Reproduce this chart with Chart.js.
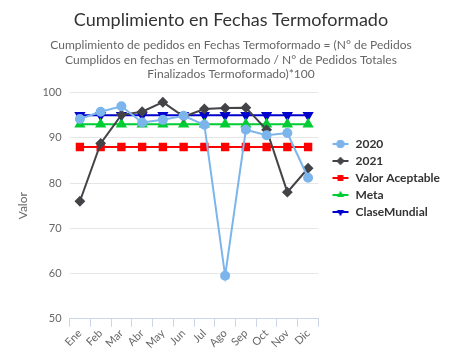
<!DOCTYPE html>
<html>
<head>
<meta charset="utf-8">
<script src="https://cdn.jsdelivr.net/npm/chart.js@4/dist/chart.umd.min.js"></script>
<style>
    html, body { margin: 0; padding: 0; background: #fff; }
    #wrap { width: 450px; height: 354px; }
</style>
</head>
<body>
<div id="wrap"><canvas id="chart"></canvas></div>
<script>
const meses = ['Ene', 'Feb', 'Mar', 'Abr', 'May', 'Jun', 'Jul', 'Ago', 'Sep', 'Oct', 'Nov', 'Dic'];
const datos2020 = [94.2, 95.8, 97.0, 93.4, 94.0, 94.9, 92.9, 59.5, 91.8, 90.6, 91.1, 81.2];
const datos2021 = [76.0, 88.8, 95.1, 95.8, 97.9, 94.7, 96.4, 96.6, 96.7, 91.8, 78.0, 83.3];
const valorAceptable = [88, 88, 88, 88, 88, 88, 88, 88, 88, 88, 88, 88];
const meta = [93, 93, 93, 93, 93, 93, 93, 93, 93, 93, 93, 93];
const claseMundial = [95, 95, 95, 95, 95, 95, 95, 95, 95, 95, 95, 95];

const fuente = 'Lato, "Open Sans", sans-serif';

// icono de la leyenda: linea con marcador (con margen vacio a la izquierda)
function iconoLeyenda(color, estilo, rot) {
    const c = document.createElement('canvas');
    c.width = 26; c.height = 12;
    const ctx = c.getContext('2d');
    ctx.strokeStyle = color;
    ctx.lineWidth = 2;
    ctx.beginPath();
    ctx.moveTo(9, 6); ctx.lineTo(25, 6);
    ctx.stroke();
    ctx.fillStyle = color;
    Chart.helpers.drawPoint(ctx, { pointStyle: estilo, radius: 4, rotation: rot || 0, borderWidth: 0 }, 17, 6);
    ctx.fill();
    return c;
}

function serie(label, data, color, estilo, radio, rot) {
    return {
        label: label,
        data: data,
        borderColor: color,
        backgroundColor: color,
        pointBackgroundColor: color,
        pointBorderColor: color,
        pointStyle: estilo,
        pointRadius: radio,
        pointRotation: rot || 0,
        borderWidth: 2,
        tension: 0,
        fill: false,
        icono: iconoLeyenda(color, estilo, rot)
    };
}

new Chart(document.getElementById('chart'), {
    type: 'line',
    data: {
        labels: meses,
        datasets: [
            serie('2020', datos2020, '#7cb5ec', 'circle', 4),
            serie('2021', datos2021, '#434348', 'rectRot', 4),
            serie('Valor Aceptable', valorAceptable, '#ff0000', 'rect', 4.5),
            serie('Meta', meta, '#00cc33', 'triangle', 4.5),
            serie('ClaseMundial', claseMundial, '#0000cc', 'triangle', 4.5, 180)
        ]
    },
    options: {
        responsive: true,
        maintainAspectRatio: false,
        animation: false,
        layout: { padding: { left: 12, right: 0, top: 5, bottom: 3 } },
        plugins: {
            title: {
                display: true,
                text: 'Cumplimiento en Fechas Termoformado',
                color: '#333333',
                font: { family: fuente, size: 18, weight: 'normal' },
                padding: { top: 4, bottom: 8 }
            },
            subtitle: {
                display: true,
                text: [
                    'Cumplimiento de pedidos en Fechas Termoformado = (N° de Pedidos',
                    'Cumplidos en fechas en Termoformado / N° de Pedidos Totales',
                    'Finalizados Termoformado)*100'
                ],
                color: '#666666',
                font: { family: fuente, size: 12, lineHeight: 1.17 },
                padding: { bottom: 12 }
            },
            legend: {
                position: 'right',
                maxWidth: 140,
                labels: {
                    color: '#333333',
                    font: { family: fuente, size: 12, weight: 'bold' },
                    usePointStyle: true,
                    pointStyleWidth: 26,
                    boxHeight: 12,
                    padding: 5,
                    generateLabels: function(chart) {
                        return chart.data.datasets.map(function(ds, i) {
                            return {
                                text: ds.label,
                                pointStyle: ds.icono,
                                fillStyle: ds.borderColor,
                                strokeStyle: ds.borderColor,
                                lineWidth: 0,
                                hidden: false,
                                datasetIndex: i,
                                fontColor: '#333333'
                            };
                        });
                    }
                }
            },
            tooltip: { enabled: false }
        },
        scales: {
            x: {
                offset: true,
                grid: {
                    display: true,
                    drawOnChartArea: false,
                    offset: true,
                    color: '#ccd6eb',
                    tickLength: 8
                },
                border: { color: '#ccd6eb' },
                ticks: {
                    color: '#666666',
                    font: { family: fuente, size: 11 },
                    maxRotation: 45,
                    minRotation: 45,
                    autoSkip: false,
                    padding: 0
                }
            },
            y: {
                min: 50,
                max: 100,
                ticks: {
                    stepSize: 10,
                    color: '#666666',
                    font: { family: fuente, size: 11 },
                    padding: 8
                },
                grid: { color: '#e6e6e6', drawTicks: false },
                border: { display: false },
                title: {
                    display: true,
                    text: 'Valor',
                    color: '#666666',
                    font: { family: fuente, size: 12 }
                }
            }
        }
    }
});
</script>
</body>
</html>
